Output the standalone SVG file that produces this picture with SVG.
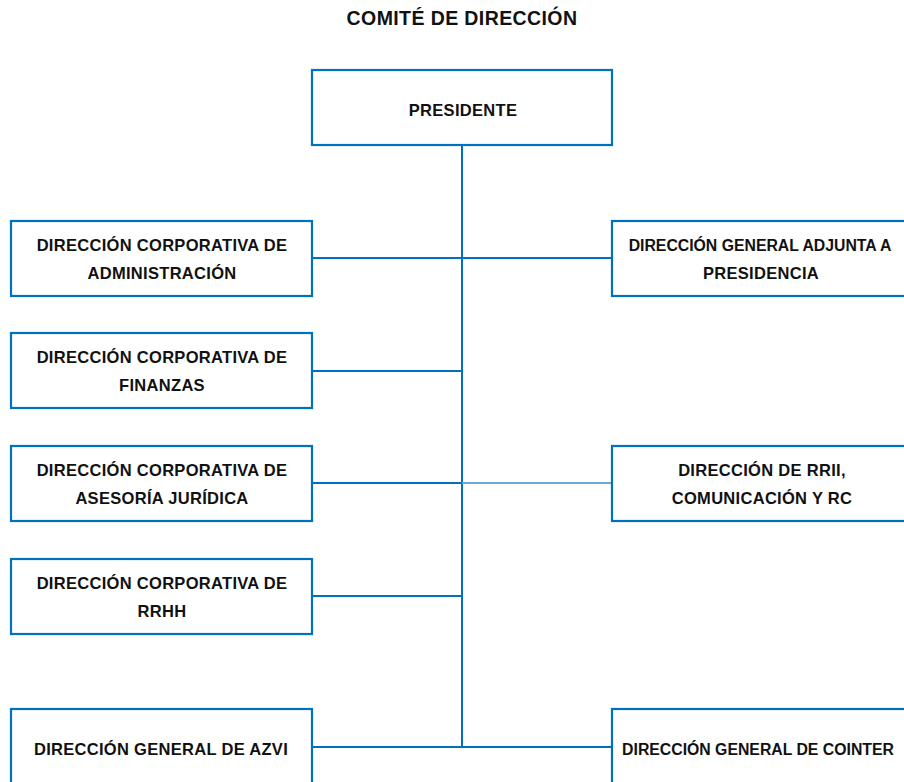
<svg xmlns="http://www.w3.org/2000/svg" width="904" height="782" viewBox="0 0 904 782">
<style>
.box{fill:#fff;stroke:#0070C0;stroke-width:2.2}
.t{font-family:"Liberation Sans",Arial,sans-serif;font-weight:bold;font-size:16.5px;letter-spacing:0.3px;fill:#111;text-anchor:middle}
.h{font-size:19.5px;letter-spacing:0.4px}
.n{font-size:15.8px;letter-spacing:0px}
.c{stroke:#0070C0;stroke-width:2;fill:none}
.cl{stroke:#6FA6D8;stroke-width:2.2;fill:none}
</style>
<rect width="904" height="782" fill="#fff"/>
<text class="t h" x="462" y="25">COMITÉ DE DIRECCIÓN</text>
<g id="connectors">
<line class="c" x1="462" y1="145" x2="462" y2="748"/>
<line class="c" x1="312" y1="258" x2="612" y2="258"/>
<line class="c" x1="312" y1="371" x2="463" y2="371"/>
<line class="c" x1="312" y1="483" x2="462" y2="483"/>
<line class="cl" x1="462" y1="483" x2="612" y2="483"/>
<line class="c" x1="312" y1="596" x2="463" y2="596"/>
<line class="c" x1="312" y1="747" x2="612" y2="747"/>
</g>
<g id="presidente"><rect class="box" x="312" y="70" width="300" height="75"/><text class="t" x="463" y="116">PRESIDENTE</text></g>
<g id="admin"><rect class="box" x="11" y="221" width="301" height="75"/><text class="t" x="162" y="251">DIRECCIÓN CORPORATIVA DE</text><text class="t" x="162" y="279">ADMINISTRACIÓN</text></g>
<g id="finanzas"><rect class="box" x="11" y="333" width="301" height="75"/><text class="t" x="162" y="363">DIRECCIÓN CORPORATIVA DE</text><text class="t" x="162" y="391">FINANZAS</text></g>
<g id="juridica"><rect class="box" x="11" y="446" width="301" height="75"/><text class="t" x="162" y="476">DIRECCIÓN CORPORATIVA DE</text><text class="t" x="162" y="504">ASESORÍA JURÍDICA</text></g>
<g id="rrhh"><rect class="box" x="11" y="559" width="301" height="75"/><text class="t" x="162" y="589">DIRECCIÓN CORPORATIVA DE</text><text class="t" x="162" y="617">RRHH</text></g>
<g id="azvi"><rect class="box" x="11" y="709" width="301" height="80"/><text class="t" x="161" y="755">DIRECCIÓN GENERAL DE AZVI</text></g>
<g id="adjunta"><rect class="box" x="612" y="221" width="300" height="75"/><text class="t n" x="760" y="251">DIRECCIÓN GENERAL ADJUNTA A</text><text class="t" x="761" y="279">PRESIDENCIA</text></g>
<g id="rrii"><rect class="box" x="612" y="446" width="300" height="75"/><text class="t" x="762" y="476">DIRECCIÓN DE RRII,</text><text class="t" x="762" y="504">COMUNICACIÓN Y RC</text></g>
<g id="cointer"><rect class="box" x="612" y="709" width="300" height="80"/><text class="t n" x="758" y="755">DIRECCIÓN GENERAL DE COINTER</text></g>
</svg>
